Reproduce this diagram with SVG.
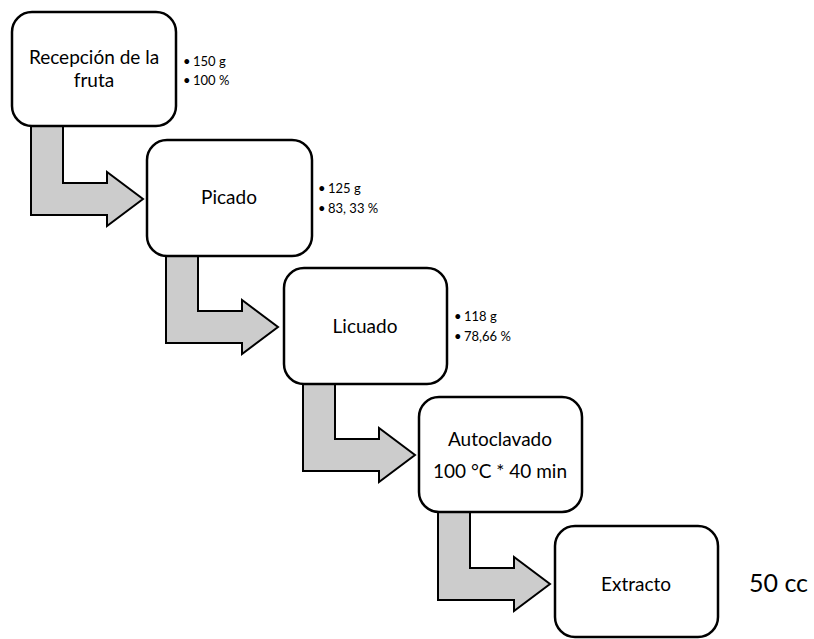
<svg xmlns="http://www.w3.org/2000/svg" width="814" height="639" viewBox="0 0 814 639">
<style>
.box{fill:#fff;stroke:#000;stroke-width:2.5}
.arr{fill:#cccccc;stroke:#000;stroke-width:2;stroke-linejoin:miter}
.t{font-family:Lato,"Open Sans","Liberation Sans",sans-serif;font-size:19px;fill:#000;text-anchor:middle}
.l{font-family:Lato,"Open Sans","Liberation Sans",sans-serif;font-size:13px;fill:#000}
.big{font-family:Lato,"Open Sans","Liberation Sans",sans-serif;font-size:25px;fill:#000}
</style>
<rect width="814" height="639" fill="#fff"/>
<g id="connectors">
<polygon class="arr" points="31,124 63,124 63,183 107,183 107,172 143,199 107,226 107,215 31,215"/>
<polygon class="arr" points="166,252 198,252 198,311 242,311 242,300 278,327 242,354 242,343 166,343"/>
<polygon class="arr" points="303,380 335,380 335,439 379,439 379,428 415,455 379,482 379,471 303,471"/>
<polygon class="arr" points="438,509 470,509 470,568 514,568 514,557 550,584 514,611 514,600 438,600"/>
</g>
<g id="n1">
<rect class="box" x="12" y="12" width="164" height="114" rx="20"/>
<text class="t" x="94" y="64">Recepción de la</text>
<text class="t" x="94" y="87">fruta</text>
<text class="l" x="183" y="66">•</text><text class="l" x="193" y="66">150 g</text>
<text class="l" x="183" y="85">•</text><text class="l" x="193" y="85">100 %</text>
</g>
<g id="n2">
<rect class="box" x="147" y="140" width="165" height="116" rx="20"/>
<text class="t" x="229" y="204">Picado</text>
<text class="l" x="318" y="193">•</text><text class="l" x="328" y="193">125 g</text>
<text class="l" x="318" y="213">•</text><text class="l" x="328" y="213">83, 33 %</text>
</g>
<g id="n3">
<rect class="box" x="284" y="268" width="163" height="116" rx="20"/>
<text class="t" x="365" y="333">Licuado</text>
<text class="l" x="454" y="321">•</text><text class="l" x="464" y="321">118 g</text>
<text class="l" x="454" y="341">•</text><text class="l" x="464" y="341">78,66 %</text>
</g>
<g id="n4">
<rect class="box" x="419" y="397" width="163" height="115" rx="20"/>
<text class="t" x="500" y="446">Autoclavado</text>
<text class="t" x="500" y="478">100 °C * 40 min</text>
</g>
<g id="n5">
<rect class="box" x="555" y="526" width="163" height="111" rx="20"/>
<text class="t" x="636" y="591">Extracto</text>
<text class="big" x="749" y="592">50 cc</text>
</g>
</svg>
